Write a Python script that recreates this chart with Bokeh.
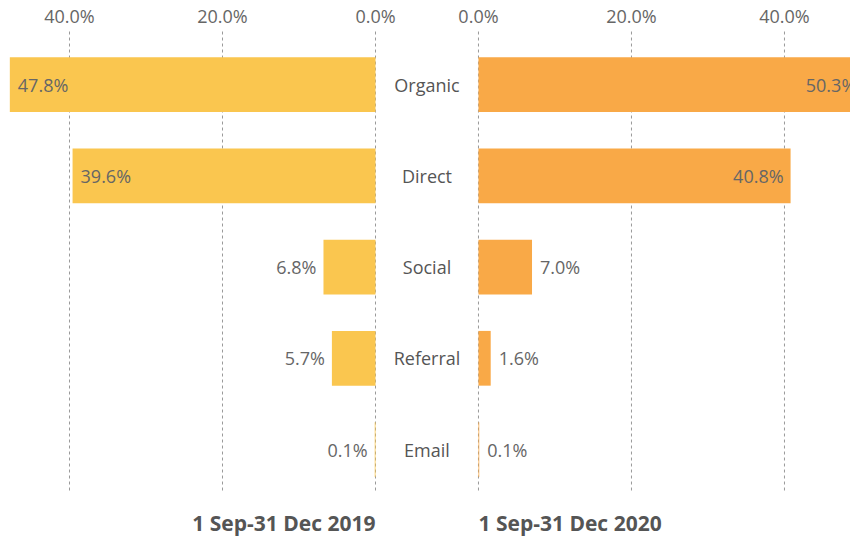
from bokeh.plotting import figure
from bokeh.models import ColumnDataSource, Range1d, FixedTicker, CustomJSTickFormatter
from bokeh.core.properties import value
from bokeh.embed import file_html
from bokeh.resources import INLINE

# ---- data ----
categories = ["Organic", "Direct", "Social", "Referral", "Email"]
share_2019 = [47.8, 39.6, 6.8, 5.7, 0.1]
share_2020 = [50.3, 40.8, 7.0, 1.6, 0.1]
period_2019 = "1 Sep-31 Dec 2019"
period_2020 = "1 Sep-31 Dec 2020"
tick_values = [0, 20, 40]

# ---- style ----
FONT = "Open Sans"
C19 = "#FAC64F"
C20 = "#F9A947"
TXT = "#666666"
CAT = "#555555"
GRID = "#9a9a9a"
GAP = 13.46          # gap (in % units) between the two panels
INSIDE = 20          # values above this get their label inside the bar
Y_TOP, Y_BOT = -0.636, 4.964      # vertical extent of the plotting area
GRID_TOP, GRID_BOT = -0.581, 4.471
TITLE_Y = 4.80

ypos = list(range(len(categories)))

def lab(v):
    return f"{v:.1f}%"

left_src = ColumnDataSource(dict(
    y=ypos, left=[-v for v in share_2019], right=[0] * len(share_2019),
    tx=[-v for v in share_2019], label=[lab(v) for v in share_2019],
    align=["left" if v > INSIDE else "right" for v in share_2019],
    xoff=[8 if v > INSIDE else -7 for v in share_2019],
))
right_src = ColumnDataSource(dict(
    y=ypos, left=[GAP] * len(share_2020), right=[GAP + v for v in share_2020],
    tx=[GAP + v for v in share_2020], label=[lab(v) for v in share_2020],
    align=["right" if v > INSIDE else "left" for v in share_2020],
    xoff=[-7 if v > INSIDE else 8 for v in share_2020],
))
cat_src = ColumnDataSource(dict(y=ypos, x=[GAP / 2] * len(categories), name=categories))

ticks = [-t for t in tick_values] + [GAP + t for t in tick_values]
grid_src = ColumnDataSource(dict(x=ticks, y0=[GRID_TOP] * len(ticks), y1=[GRID_BOT] * len(ticks)))
title_src = ColumnDataSource(dict(x=[0, GAP], y=[TITLE_Y, TITLE_Y],
                                  text=[period_2019, period_2020],
                                  align=["right", "left"]))

px_per_unit = 7.65
frame_w = 850
left_zero_px = 375
x_start = -left_zero_px / px_per_unit
x_end = (frame_w - left_zero_px) / px_per_unit

p = figure(width=850, height=537, frame_width=frame_w, frame_height=511,
           output_backend="svg", toolbar_location=None,
           x_range=Range1d(x_start, x_end), y_range=Range1d(Y_BOT, Y_TOP),
           x_axis_location="above", min_border_left=0, min_border_right=0,
           min_border_top=0, min_border_bottom=0)
p.outline_line_color = None
p.background_fill_color = "white"
p.border_fill_color = "white"
p.grid.visible = False

p.segment(x0="x", y0="y0", x1="x", y1="y1", source=grid_src,
          line_color=GRID, line_dash="3 3", line_width=1)

p.hbar(y="y", left="left", right="right", height=0.6, source=left_src,
       fill_color=C19, line_color=None)
p.hbar(y="y", left="left", right="right", height=0.6, source=right_src,
       fill_color=C20, line_color=None)

for src in (left_src, right_src):
    p.text(x="tx", y="y", text="label", source=src, text_align="align",
           x_offset="xoff", text_baseline="middle", text_font=value(FONT),
           text_font_size="18px", text_color=TXT)

p.text(x="x", y="y", text="name", source=cat_src, text_align="center",
       text_baseline="middle", text_font=value(FONT), text_font_size="18px",
       text_color=CAT)

p.text(x="x", y="y", text="text", source=title_src, text_align="align",
       text_baseline="alphabetic", text_font=value(FONT), text_font_size="21px",
       text_font_style="bold", text_color=CAT)

ax = p.xaxis[0]
ax.ticker = FixedTicker(ticks=ticks)
ax.formatter = CustomJSTickFormatter(args=dict(g=GAP), code="""
    const v = tick <= 0.0001 ? -tick : tick - g;
    return Math.abs(v).toFixed(1) + '%';
""")
ax.axis_line_color = None
ax.major_tick_line_color = None
ax.minor_tick_line_color = None
ax.major_tick_out = 0
ax.major_tick_in = 0
ax.major_label_text_font = FONT
ax.major_label_text_font_size = "18px"
ax.major_label_text_color = TXT
ax.major_label_standoff = -1

p.yaxis.visible = False

open("out.html", "w").write(file_html(p, INLINE))
